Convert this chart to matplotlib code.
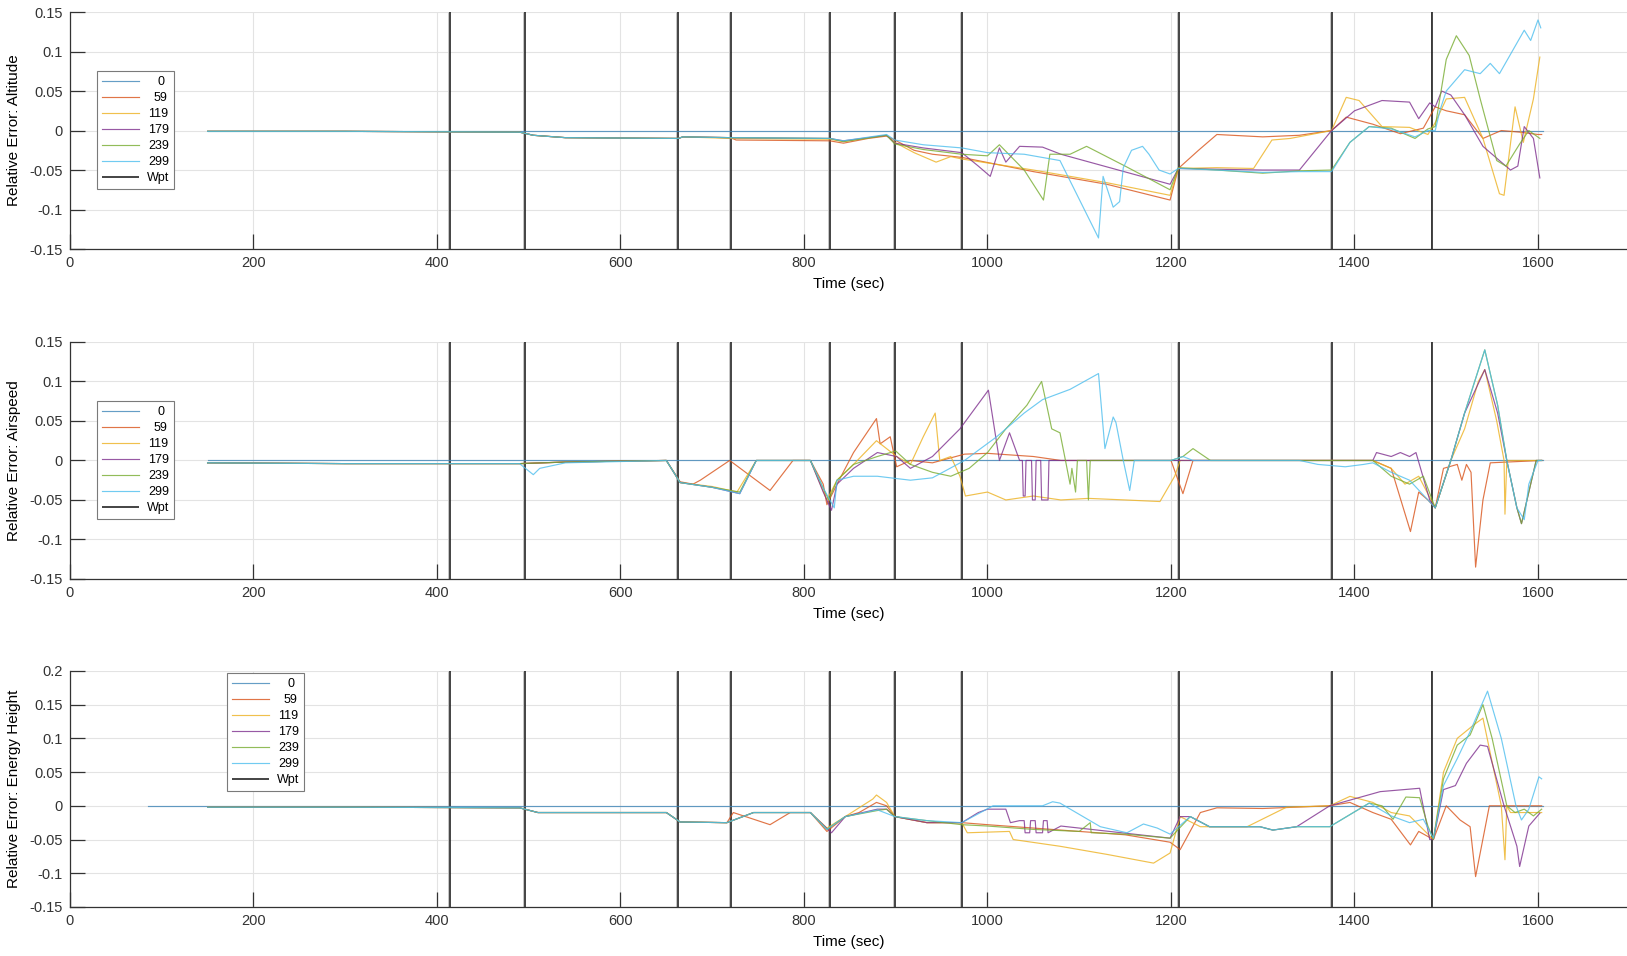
import matplotlib
matplotlib.use("Agg")
import matplotlib.pyplot as plt

plt.rcParams['font.family'] = ['Liberation Sans', 'DejaVu Sans']

# waypoint times (sec)
WPT_T = [414, 496, 663, 720, 828, 899, 972, 1209, 1375, 1485]
LABELS = ['0', '59', '119', '179', '239', '299']

# ---------------- Altitude ----------------
ALT_0_T = [150, 1605]
ALT_0_Y = [0.0, 0.0]
ALT_59_T = [150, 300, 490, 505, 540, 663, 668, 720, 726, 828, 843, 870, 890, 899, 920, 940, 972, 1050, 1130, 1199,
            1208, 1230, 1250, 1300, 1340, 1375, 1391, 1420, 1450, 1475, 1488, 1500, 1520, 1540, 1560, 1580, 1600, 1604]
ALT_59_Y = [-0.001, -0.001, -0.002, -0.006, -0.009, -0.010, -0.008, -0.009, -0.012, -0.013, -0.016, -0.010, -0.007,
            -0.012, -0.025, -0.030, -0.034, -0.052, -0.068, -0.088, -0.048, -0.025, -0.005, -0.008, -0.006, 0.000,
            0.017, 0.008, -0.004, 0.003, 0.030, 0.025, 0.020, -0.010, 0.000, -0.002, -0.005, -0.005]
ALT_119_T = [150, 300, 490, 505, 540, 663, 668, 720, 828, 843, 890, 899, 920, 944, 960, 972, 1050, 1130, 1199, 1208,
             1250, 1290, 1310, 1330, 1375, 1391, 1405, 1430, 1460, 1480, 1488, 1500, 1520, 1540, 1558, 1563, 1575,
             1584, 1595, 1602]
ALT_119_Y = [-0.001, -0.001, -0.002, -0.006, -0.009, -0.010, -0.008, -0.010, -0.011, -0.014, -0.006, -0.015, -0.028,
             -0.040, -0.033, -0.036, -0.050, -0.066, -0.082, -0.048, -0.047, -0.048, -0.012, -0.010, 0.000, 0.042,
             0.038, 0.005, 0.004, -0.005, 0.010, 0.040, 0.042, -0.010, -0.080, -0.082, 0.030, -0.015, 0.040, 0.093]
ALT_179_T = [150, 300, 490, 505, 540, 663, 668, 720, 828, 843, 890, 899, 930, 972, 990, 1003, 1013, 1020, 1035, 1060,
             1080, 1199, 1208, 1250, 1300, 1340, 1375, 1400, 1430, 1460, 1470, 1482, 1488, 1495, 1505, 1520, 1540,
             1560, 1570, 1578, 1585, 1595, 1602]
ALT_179_Y = [-0.001, -0.001, -0.002, -0.006, -0.009, -0.010, -0.008, -0.009, -0.010, -0.013, -0.006, -0.016, -0.022,
             -0.028, -0.045, -0.058, -0.022, -0.040, -0.020, -0.021, -0.030, -0.068, -0.048, -0.049, -0.050, -0.050,
             0.000, 0.025, 0.038, 0.036, 0.015, 0.035, 0.030, 0.050, 0.045, 0.020, -0.020, -0.040, -0.050, -0.045,
             0.005, -0.010, -0.060]
ALT_239_T = [150, 300, 490, 505, 540, 663, 668, 720, 828, 843, 890, 899, 930, 972, 1000, 1013, 1040, 1061, 1068, 1090,
             1108, 1150, 1199, 1208, 1250, 1300, 1340, 1375, 1395, 1416, 1440, 1466, 1480, 1488, 1500, 1511, 1525,
             1537, 1555, 1565, 1580, 1590, 1602]
ALT_239_Y = [-0.001, -0.001, -0.002, -0.006, -0.009, -0.010, -0.008, -0.009, -0.010, -0.014, -0.006, -0.017, -0.024,
             -0.030, -0.032, -0.018, -0.050, -0.088, -0.030, -0.030, -0.020, -0.045, -0.075, -0.047, -0.050, -0.054,
             -0.051, -0.050, -0.015, 0.005, 0.003, -0.010, 0.002, 0.005, 0.090, 0.120, 0.095, 0.040, -0.038, -0.045,
             -0.017, 0.000, -0.010]
ALT_299_T = [150, 300, 490, 505, 540, 663, 668, 720, 828, 843, 890, 899, 930, 972, 1000, 1040, 1079, 1121, 1126, 1137,
             1144, 1148, 1157, 1169, 1176, 1187, 1199, 1208, 1250, 1300, 1340, 1375, 1395, 1416, 1440, 1466, 1480,
             1488, 1493, 1500, 1520, 1537, 1548, 1558, 1585, 1592, 1600, 1603]
ALT_299_Y = [-0.001, -0.001, -0.002, -0.006, -0.009, -0.010, -0.008, -0.009, -0.010, -0.013, -0.005, -0.012, -0.018,
             -0.022, -0.028, -0.030, -0.038, -0.136, -0.058, -0.097, -0.090, -0.047, -0.025, -0.020, -0.030, -0.050,
             -0.055, -0.048, -0.050, -0.053, -0.052, -0.052, -0.015, 0.005, 0.002, -0.008, 0.000, 0.000, 0.025,
             0.050, 0.077, 0.072, 0.085, 0.072, 0.127, 0.114, 0.140, 0.130]

# ---------------- Airspeed ----------------
AIR_0_T = [150, 1605]
AIR_0_Y = [0.0, 0.0]
AIR_59_T = [150, 300, 490, 540, 650, 665, 679, 687, 719, 763, 788, 807, 821, 825, 836, 854, 879, 883, 894, 901,
            916, 940, 975, 1000, 1050, 1080, 1150, 1200, 1213, 1224, 1420, 1440, 1461, 1470, 1480, 1488, 1497, 1512,
            1517, 1522, 1527, 1532, 1540, 1548, 1604]
AIR_59_Y = [-0.003, -0.004, -0.004, -0.002, 0.000, -0.027, -0.030, -0.025, 0.000, -0.038, 0.000, 0.000, -0.030,
            -0.056, -0.030, 0.010, 0.053, 0.021, 0.030, -0.008, 0.000, -0.003, 0.008, 0.009, 0.005, 0.000, 0.000,
            0.000, -0.042, 0.000, 0.000, -0.010, -0.090, -0.040, -0.050, -0.060, -0.010, -0.005, -0.025, -0.005,
            -0.015, -0.135, -0.050, -0.003, 0.000]
AIR_119_T = [150, 300, 490, 540, 650, 665, 700, 727, 748, 807, 825, 836, 854, 879, 890, 901, 916, 930, 943, 948,
             960, 970, 976, 1000, 1020, 1050, 1080, 1110, 1150, 1188, 1204, 1210, 1420, 1440, 1455, 1470, 1488, 1505,
             1520, 1535, 1542, 1555, 1563, 1564, 1566, 1604]
AIR_119_Y = [-0.003, -0.004, -0.004, -0.002, 0.000, -0.028, -0.033, -0.040, 0.000, 0.000, -0.050, -0.025, -0.005,
             0.025, 0.015, 0.005, -0.005, 0.030, 0.060, 0.000, 0.005, -0.020, -0.045, -0.040, -0.050, -0.045, -0.050,
             -0.048, -0.050, -0.052, -0.020, 0.000, 0.000, -0.010, -0.030, -0.020, -0.060, 0.000, 0.040, 0.100,
             0.115, 0.050, 0.000, -0.068, 0.000, 0.000]
AIR_179_T = [150, 300, 490, 540, 650, 665, 700, 730, 748, 807, 821, 830, 836, 854, 880, 901, 916, 940, 970, 1001,
             1013, 1024, 1035, 1038, 1039, 1041, 1042, 1048, 1049, 1052, 1053, 1058, 1059, 1066, 1067, 1080, 1200,
             1420, 1424, 1440, 1450, 1460, 1467, 1482, 1488, 1505, 1520, 1542, 1556, 1566, 1577, 1582, 1590, 1598,
             1604]
AIR_179_Y = [-0.003, -0.004, -0.004, -0.002, 0.000, -0.028, -0.034, -0.042, 0.000, 0.000, -0.040, -0.063, -0.030,
             -0.010, 0.010, 0.005, -0.010, 0.005, 0.040, 0.089, 0.000, 0.035, 0.000, 0.000, -0.045, -0.045, 0.000,
             0.000, -0.050, -0.050, 0.000, 0.000, -0.050, -0.050, 0.000, 0.000, 0.000, 0.000, 0.010, 0.005, 0.010,
             0.005, 0.010, -0.050, -0.060, 0.000, 0.060, 0.115, 0.060, 0.000, -0.060, -0.080, -0.040, 0.000, 0.000]
AIR_239_T = [150, 300, 490, 540, 650, 665, 700, 730, 748, 807, 821, 827, 836, 854, 880, 900, 916, 940, 960, 980,
             1000, 1020, 1043, 1059, 1070, 1079, 1085, 1090, 1092, 1096, 1098, 1108, 1110, 1112, 1200, 1213, 1224,
             1243, 1420, 1440, 1460, 1475, 1488, 1505, 1520, 1542, 1556, 1566, 1577, 1582, 1590, 1598, 1604]
AIR_239_Y = [-0.003, -0.004, -0.004, -0.002, 0.000, -0.028, -0.034, -0.040, 0.000, 0.000, -0.035, -0.050, -0.025,
             -0.005, 0.005, 0.012, -0.005, -0.015, -0.020, -0.010, 0.010, 0.040, 0.070, 0.100, 0.040, 0.035, 0.000,
             -0.030, -0.010, -0.040, 0.000, 0.000, -0.050, 0.000, 0.000, 0.005, 0.015, 0.000, 0.000, -0.020, -0.030,
             -0.020, -0.060, 0.000, 0.060, 0.140, 0.070, 0.000, -0.060, -0.080, -0.040, 0.000, 0.000]
AIR_299_T = [150, 300, 490, 505, 512, 540, 650, 665, 700, 730, 748, 807, 821, 833, 836, 854, 880, 916, 940, 975,
             1010, 1040, 1060, 1090, 1121, 1128, 1137, 1140, 1148, 1155, 1160, 1200, 1213, 1224, 1340, 1360, 1390,
             1410, 1420, 1440, 1460, 1488, 1505, 1520, 1542, 1556, 1566, 1577, 1585, 1590, 1600, 1604]
AIR_299_Y = [-0.003, -0.004, -0.004, -0.018, -0.010, -0.003, 0.000, -0.028, -0.034, -0.042, 0.000, 0.000, -0.035,
             -0.060, -0.025, -0.020, -0.020, -0.025, -0.022, 0.000, 0.030, 0.060, 0.077, 0.090, 0.110, 0.015, 0.055,
             0.048, 0.000, -0.038, 0.000, 0.000, 0.005, 0.000, 0.000, -0.005, -0.008, -0.005, -0.003, -0.015, -0.025,
             -0.060, 0.000, 0.060, 0.140, 0.070, 0.000, -0.060, -0.075, -0.030, 0.000, 0.000]

# ---------------- Energy Height ----------------
ENE_0_T = [85, 1605]
ENE_0_Y = [0.0, 0.0]
ENE_59_T = [150, 300, 490, 510, 650, 665, 716, 723, 763, 785, 807, 825, 845, 860, 879, 890, 899, 934, 972, 1000,
            1050, 1100, 1150, 1199, 1210, 1232, 1250, 1300, 1373, 1395, 1420, 1440, 1461, 1470, 1486, 1500, 1515,
            1526, 1532, 1547, 1604]
ENE_59_Y = [-0.002, -0.002, -0.003, -0.010, -0.010, -0.024, -0.025, -0.010, -0.028, -0.010, -0.010, -0.038, -0.016,
            -0.010, 0.005, 0.000, -0.016, -0.025, -0.025, -0.028, -0.033, -0.038, -0.043, -0.054, -0.065, -0.010,
            -0.003, -0.004, 0.000, 0.005, -0.010, -0.020, -0.058, -0.038, -0.050, 0.000, -0.021, -0.031, -0.105,
            0.000, 0.000]
ENE_119_T = [150, 300, 490, 510, 650, 665, 716, 745, 807, 825, 845, 875, 879, 890, 899, 934, 972, 978, 1024, 1028,
             1079, 1130, 1181, 1199, 1210, 1232, 1283, 1326, 1373, 1395, 1420, 1440, 1460, 1486, 1497, 1512, 1530,
             1540, 1560, 1564, 1566, 1570, 1604]
ENE_119_Y = [-0.002, -0.002, -0.003, -0.010, -0.010, -0.024, -0.025, -0.010, -0.010, -0.033, -0.016, 0.010, 0.016,
             0.005, -0.016, -0.025, -0.025, -0.040, -0.038, -0.050, -0.060, -0.072, -0.085, -0.070, -0.016, -0.031,
             -0.031, -0.002, 0.000, 0.014, 0.005, -0.010, -0.015, -0.050, 0.050, 0.100, 0.120, 0.130, 0.000, -0.080,
             0.000, -0.010, -0.010]
ENE_179_T = [150, 300, 490, 510, 650, 665, 716, 745, 807, 830, 845, 880, 890, 899, 934, 972, 990, 1000, 1020, 1025,
             1035, 1040, 1041, 1046, 1047, 1052, 1053, 1060, 1061, 1065, 1066, 1080, 1199, 1210, 1221, 1242, 1297,
             1311, 1337, 1373, 1428, 1471, 1482, 1486, 1497, 1510, 1522, 1537, 1545, 1563, 1577, 1580, 1590, 1602]
ENE_179_Y = [-0.002, -0.002, -0.003, -0.010, -0.010, -0.024, -0.025, -0.010, -0.010, -0.040, -0.016, -0.005, -0.005,
             -0.016, -0.025, -0.025, -0.010, -0.005, -0.005, -0.025, -0.022, -0.022, -0.040, -0.040, -0.022, -0.022,
             -0.040, -0.040, -0.022, -0.022, -0.040, -0.030, -0.048, -0.016, -0.016, -0.031, -0.031, -0.036, -0.031,
             0.000, 0.021, 0.026, -0.050, -0.050, 0.024, 0.030, 0.063, 0.090, 0.088, 0.000, -0.060, -0.090, -0.030,
             -0.011]
ENE_239_T = [150, 300, 490, 510, 650, 665, 716, 745, 807, 825, 845, 880, 890, 899, 934, 972, 1000, 1050, 1100, 1112,
             1113, 1150, 1199, 1221, 1242, 1297, 1311, 1337, 1373, 1416, 1430, 1442, 1456, 1471, 1480, 1486, 1497,
             1512, 1526, 1540, 1550, 1566, 1575, 1585, 1595, 1604]
ENE_239_Y = [-0.002, -0.002, -0.003, -0.010, -0.010, -0.024, -0.025, -0.010, -0.010, -0.035, -0.016, -0.007, -0.005,
             -0.016, -0.022, -0.028, -0.030, -0.035, -0.038, -0.025, -0.040, -0.042, -0.048, -0.016, -0.031, -0.031,
             -0.036, -0.031, -0.031, 0.004, 0.000, -0.020, 0.013, 0.012, -0.030, -0.050, 0.040, 0.090, 0.105, 0.150,
             0.100, 0.000, -0.010, -0.005, -0.015, -0.005]
ENE_299_T = [150, 300, 490, 510, 650, 665, 716, 745, 807, 825, 845, 880, 899, 934, 972, 1006, 1060, 1071, 1079, 1123,
             1152, 1170, 1185, 1199, 1221, 1242, 1297, 1311, 1337, 1373, 1416, 1440, 1460, 1475, 1486, 1497, 1512,
             1526, 1545, 1560, 1576, 1582, 1590, 1601, 1604]
ENE_299_Y = [-0.002, -0.002, -0.003, -0.010, -0.010, -0.024, -0.025, -0.010, -0.010, -0.035, -0.016, -0.006, -0.016,
             -0.022, -0.025, 0.000, 0.000, 0.006, 0.004, -0.031, -0.040, -0.027, -0.033, -0.042, -0.016, -0.031,
             -0.031, -0.036, -0.031, -0.031, 0.004, -0.015, -0.025, -0.020, -0.048, 0.030, 0.070, 0.110, 0.170, 0.100,
             0.000, -0.021, -0.005, 0.043, 0.040]

# MATLAB default line colours
colors = ['#3f86b8', '#D95319', '#EDB120', '#7E2F8E', '#77AC30', '#4DBEEE']

panels = [
    ("Relative Error: Altitude", (-0.15, 0.15),
     [(ALT_0_T, ALT_0_Y), (ALT_59_T, ALT_59_Y), (ALT_119_T, ALT_119_Y),
      (ALT_179_T, ALT_179_Y), (ALT_239_T, ALT_239_Y), (ALT_299_T, ALT_299_Y)],
     [-0.15, -0.1, -0.05, 0, 0.05, 0.1, 0.15], (0.0173, 0.751)),
    ("Relative Error: Airspeed", (-0.15, 0.15),
     [(AIR_0_T, AIR_0_Y), (AIR_59_T, AIR_59_Y), (AIR_119_T, AIR_119_Y),
      (AIR_179_T, AIR_179_Y), (AIR_239_T, AIR_239_Y), (AIR_299_T, AIR_299_Y)],
     [-0.15, -0.1, -0.05, 0, 0.05, 0.1, 0.15], (0.0173, 0.751)),
    ("Relative Error: Energy Height", (-0.15, 0.2),
     [(ENE_0_T, ENE_0_Y), (ENE_59_T, ENE_59_Y), (ENE_119_T, ENE_119_Y),
      (ENE_179_T, ENE_179_Y), (ENE_239_T, ENE_239_Y), (ENE_299_T, ENE_299_Y)],
     [-0.15, -0.1, -0.05, 0, 0.05, 0.1, 0.15, 0.2], (0.1008, 0.991)),
]

fig = plt.figure(figsize=(16.27, 9.56), dpi=100)
# axes rectangles in figure fraction (left, bottom, width, height)
rects = [(0.0430, 0.7395, 0.957, 0.2479),
         (0.0430, 0.3944, 0.957, 0.2479),
         (0.0430, 0.0513, 0.957, 0.2469)]

legends = []
for rect, (ylab, ylim, series, yticks, leg_pos) in zip(rects, panels):
    ax = fig.add_axes(rect)
    ax.set_xlim(0, 1697)
    ax.set_ylim(*ylim)

    # faint companion lines and the waypoint markers
    ax.vlines([w - 2 for w in WPT_T], ylim[0], ylim[1], color='#c4c4c4', lw=0.7, zorder=1)
    handles = []
    for (t, y), c, lab in zip(series, colors, LABELS):
        h, = ax.plot(t, y, color=c, lw=0.85, alpha=0.8, label=lab, zorder=3)
        handles.append(h)
    wl = ax.vlines(WPT_T, ylim[0], ylim[1], color='#111111', lw=1.1, label='Wpt', zorder=2)
    handles.append(wl)

    ax.set_xticks(range(0, 1601, 200))
    ax.set_yticks(yticks)
    ax.set_yticklabels([('%g' % v) for v in yticks])
    ax.grid(True, color='#e3e3e3', lw=0.8)
    ax.set_axisbelow(True)
    for s in ['top', 'right']:
        ax.spines[s].set_visible(False)
    for s in ['left', 'bottom']:
        ax.spines[s].set_color('#333333')
        ax.spines[s].set_linewidth(0.9)
    ax.tick_params(direction='in', length=11, width=0.9, colors='#333333', labelsize=10.5, pad=5)
    ax.set_xlabel("Time (sec)", fontsize=11, labelpad=5)
    ax.set_ylabel(ylab, fontsize=11, labelpad=6)

    leg = ax.legend(handles=handles, loc='upper left', bbox_to_anchor=leg_pos, borderaxespad=0,
                    fontsize=9, handlelength=3.0, labelspacing=0.32, borderpad=0.4,
                    handletextpad=0.6, fancybox=False, framealpha=1, edgecolor='#7a7a7a')
    leg.get_frame().set_linewidth(0.8)
    legends.append(leg)

# right-align the legend labels, as the MATLAB legend does
renderer = fig.canvas.get_renderer()
for leg in legends:
    texts = leg.get_texts()
    widths = [t.get_window_extent(renderer).width * 72.0 / fig.dpi for t in texts]
    wmax = max(widths)
    for t, w in zip(texts, widths):
        t.set_position((wmax - w, 0))

fig.savefig("out.png", dpi=100)
